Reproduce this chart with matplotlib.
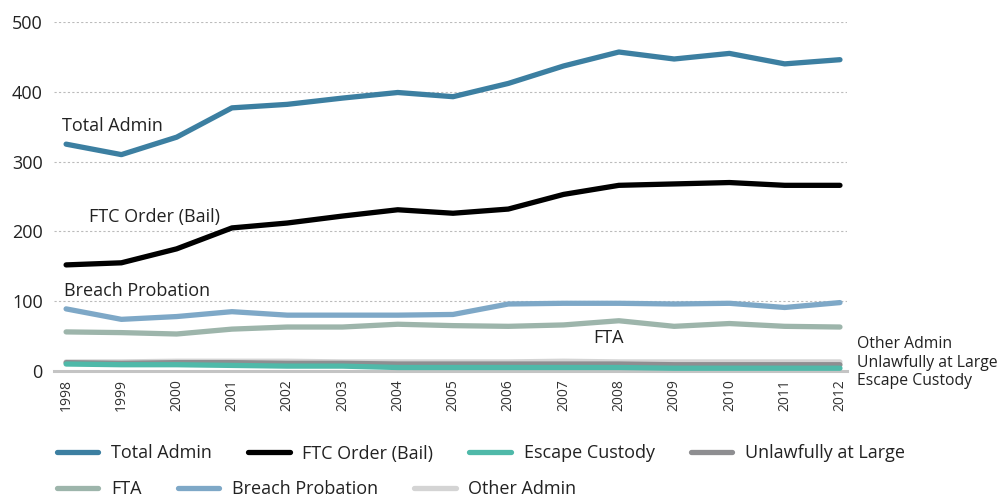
import matplotlib.pyplot as plt

plt.rcParams['font.family'] = ['Open Sans', 'DejaVu Sans']

years = list(range(1998, 2013))
total_admin = [325, 310, 335, 377, 382, 391, 399, 393, 412, 437, 457, 447, 455, 440, 446]
ftc_order = [152, 155, 175, 205, 212, 222, 231, 226, 232, 253, 266, 268, 270, 266, 266]
escape_custody = [10, 9, 9, 8, 7, 7, 5, 5, 5, 5, 5, 4, 4, 4, 4]
unlawfully = [12, 11, 12, 12, 11, 11, 10, 10, 10, 10, 10, 9, 9, 9, 9]
fta = [56, 55, 53, 60, 63, 63, 67, 65, 64, 66, 72, 64, 68, 64, 63]
breach_probation = [89, 74, 78, 85, 80, 80, 80, 81, 96, 97, 97, 96, 97, 91, 98]
other_admin = [13, 13, 14, 14, 14, 13, 13, 13, 13, 14, 13, 13, 13, 13, 13]

series = [
    ("Total Admin", total_admin, "#3c7fa1", 6),
    ("FTC Order (Bail)", ftc_order, "#000000", 6),
    ("Escape Custody", escape_custody, "#4fb9a9", 5),
    ("Unlawfully at Large", unlawfully, "#8e8e91", 4),
    ("FTA", fta, "#9db5ab", 3),
    ("Breach Probation", breach_probation, "#7ea8c7", 3),
    ("Other Admin", other_admin, "#d4d4d4", 2),
]

fig = plt.figure(figsize=(9.99, 5.0), dpi=100)
ax = fig.add_axes([0.054, 0.258, 0.794, 0.698])

handles = []
for name, vals, color, z in series:
    h, = ax.plot(years, vals, color=color, lw=3.8, solid_capstyle='round',
                 solid_joinstyle='round', label=name, zorder=z)
    handles.append(h)

ax.set_xlim(1997.78, 2012.13)
ax.set_ylim(0, 500)
ax.set_yticks([0, 100, 200, 300, 400, 500])
ax.set_xticks(years)
ax.set_xticklabels([str(y) for y in years], rotation=90, fontsize=10, color='#333333')
ax.tick_params(axis='y', length=0, labelsize=13, pad=8, labelcolor='#222222')
ax.tick_params(axis='x', length=0, pad=6)
for s in ['top', 'right', 'left']:
    ax.spines[s].set_visible(False)
ax.spines['bottom'].set_color('#c4c4c4')
ax.spines['bottom'].set_linewidth(2.2)
ax.grid(axis='y', linestyle=(0, (2, 2)), color='#bbbbbb', lw=0.8)
ax.set_axisbelow(True)

# line labels
ax.text(1997.93, 351, "Total Admin", fontsize=13, va='center', color='#222222')
ax.text(1998.42, 220, "FTC Order (Bail)", fontsize=13, va='center', color='#222222')
ax.text(1997.96, 115, "Breach Probation", fontsize=13, va='center', color='#222222')
ax.text(2007.53, 47, "FTA", fontsize=13, va='center', color='#222222')
ax.text(2012.30, 39, "Other Admin", fontsize=11.3, va='center', color='#222222', clip_on=False)
ax.text(2012.30, 11.5, "Unlawfully at Large", fontsize=11.3, va='center', color='#222222', clip_on=False)
ax.text(2012.30, -14, "Escape Custody", fontsize=11.3, va='center', color='#222222', clip_on=False)

leg_kw = dict(frameon=False, fontsize=13, handlelength=2.3, handletextpad=0.7,
              columnspacing=2.0, borderaxespad=0, borderpad=0, labelcolor='#222222')
leg1 = fig.legend(handles[:4], [s[0] for s in series[:4]], ncol=4,
                  loc='center left', bbox_to_anchor=(0.057, 0.093), **leg_kw)
leg2 = fig.legend(handles[4:], [s[0] for s in series[4:]], ncol=3,
                  loc='center left', bbox_to_anchor=(0.057, 0.022), **leg_kw)

fig.savefig('out.png', dpi=100)
